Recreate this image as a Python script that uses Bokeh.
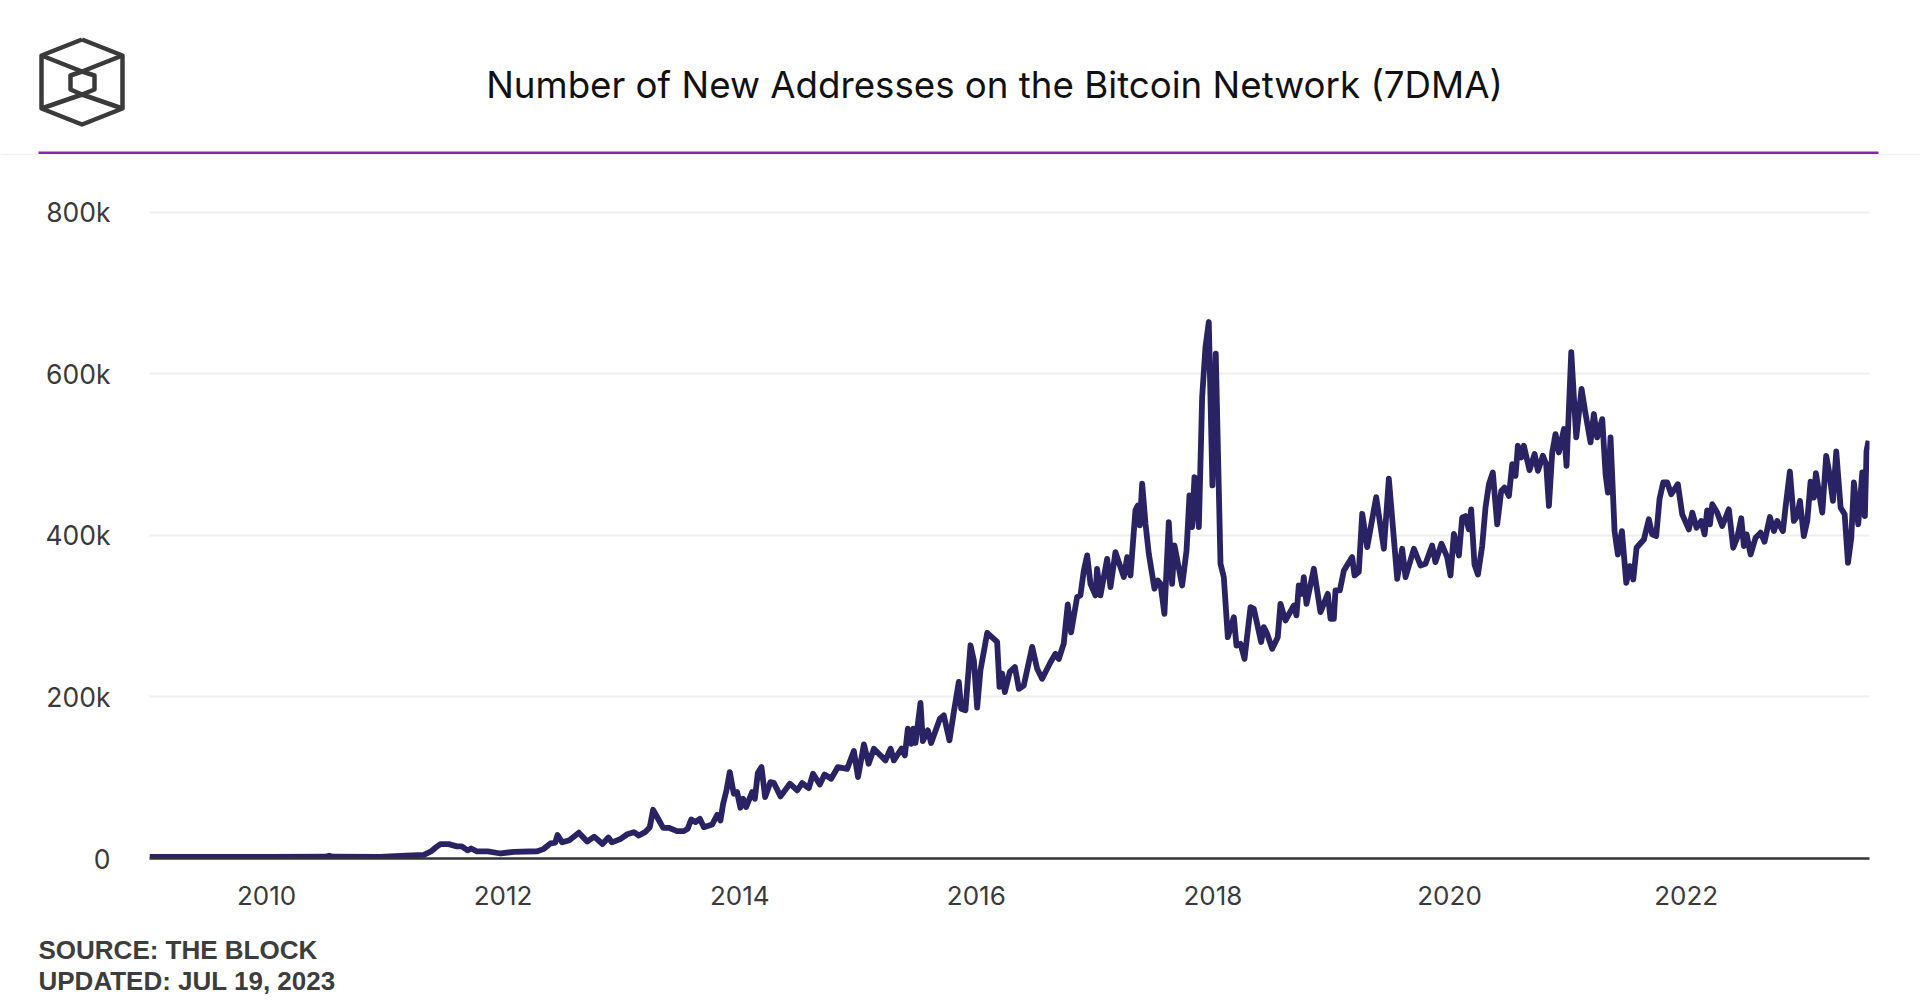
from bokeh.embed import file_html
from bokeh.layouts import column
from bokeh.models import FixedTicker, Label, Range1d
from bokeh.plotting import figure
from bokeh.resources import INLINE

TITLE = "Number of New Addresses on the Bitcoin Network (7DMA)"
SOURCE_LINES = ["SOURCE: THE BLOCK", "UPDATED: JUL 19, 2023"]

YEAR_TICKS = [2010, 2012, 2014, 2016, 2018, 2020, 2022]
VALUE_TICKS = [0, 200, 400, 600, 800]
VALUE_LABELS = {0: "0", 200: "200k", 400: "400k", 600: "600k", 800: "800k"}

# decimal year, new addresses in thousands
years_early = [
    2009.011, 2009.5, 2010.0, 2010.5, 2010.53, 2010.56, 2010.96, 2011.13, 2011.33, 2011.39, 2011.43,
    2011.47, 2011.54, 2011.61, 2011.65, 2011.70, 2011.73, 2011.78, 2011.87, 2011.98, 2012.09, 2012.29,
    2012.34, 2012.40, 2012.44, 2012.46, 2012.50, 2012.56, 2012.64, 2012.71, 2012.77, 2012.84, 2012.89,
    2012.92, 2012.99, 2013.05,
]
values_early = [
    2, 2, 2, 2.2, 3.5, 2.2, 2, 3.3, 4.5, 8.7, 13.6,
    17.8, 17.8, 15, 15, 10, 12.4, 8.7, 8.7, 6.2, 8.3, 9,
    11.6, 18.6, 19.5, 29, 20, 22.7, 32, 21, 27, 18, 26,
    20, 24, 30,
]

years_2013 = [
    2013.105, 2013.147, 2013.20, 2013.24, 2013.268, 2013.31, 2013.353, 2013.40, 2013.47, 2013.528, 2013.56,
    2013.59, 2013.626, 2013.663, 2013.697, 2013.767, 2013.81, 2013.837, 2013.86, 2013.888, 2013.916, 2013.95,
    2013.978, 2014.006, 2014.029, 2014.054, 2014.105, 2014.128, 2014.153, 2014.184, 2014.215, 2014.26, 2014.288,
    2014.345, 2014.424, 2014.486, 2014.528, 2014.584, 2014.62, 2014.677, 2014.717, 2014.773, 2014.83, 2014.908,
    2014.965, 2015.0, 2015.05, 2015.09, 2015.134, 2015.232, 2015.275, 2015.303, 2015.368, 2015.396, 2015.421,
    2015.45, 2015.466, 2015.486, 2015.528, 2015.548, 2015.59, 2015.618, 2015.692, 2015.725, 2015.773, 2015.81,
    2015.852, 2015.872, 2015.908, 2015.951, 2015.979, 2016.007, 2016.035, 2016.092, 2016.176, 2016.196, 2016.219,
    2016.241, 2016.283, 2016.326, 2016.36,
]
values_2013 = [
    32.6, 28.5, 32.6, 38.8, 60.3, 49.2, 38, 38, 33.9, 33.9, 36.8,
    48.3, 45, 49.2, 38.8, 42.1, 54.1, 47.1, 67.8, 84.3, 107, 80.2,
    82.2, 62.8, 74, 63.6, 82.2, 74, 105.8, 113.2, 76, 94.6, 93.8,
    76.9, 92.6, 84.3, 93.4, 87.2, 105, 91.7, 104, 98.8, 113.2, 111,
    133, 100.8, 141.3, 117.3, 135.9, 121.5, 136, 121.5, 136, 127.7, 160.7,
    142, 160.7, 143, 192.6, 145.4, 158.7, 143, 173, 177.3, 146.3, 181.4,
    218.6, 185.5, 183.5, 264, 245.4, 186.8, 233, 279.3, 268.2, 212.4, 229,
    206, 231, 237, 210,
]

years_2016 = [
    2016.401, 2016.472, 2016.514, 2016.556, 2016.627, 2016.669, 2016.697, 2016.739, 2016.773, 2016.801, 2016.852,
    2016.88, 2016.909, 2016.937, 2016.965, 2017.007, 2017.021, 2017.049, 2017.106, 2017.134, 2017.176, 2017.247,
    2017.275, 2017.303, 2017.345, 2017.365, 2017.382, 2017.402, 2017.43, 2017.458, 2017.506, 2017.534, 2017.557,
    2017.59, 2017.627, 2017.655, 2017.675, 2017.74, 2017.777, 2017.802, 2017.824, 2017.844, 2017.881, 2017.909,
    2017.937, 2017.965, 2017.996, 2018.024, 2018.064, 2018.092, 2018.126, 2018.177, 2018.199, 2018.233, 2018.267,
    2018.318, 2018.346, 2018.408, 2018.43, 2018.458, 2018.501, 2018.548, 2018.571, 2018.613, 2018.684, 2018.706,
    2018.726, 2018.754, 2018.768, 2018.791, 2018.853, 2018.909, 2018.971, 2018.994, 2019.022, 2019.036, 2019.073,
    2019.107, 2019.177, 2019.197, 2019.233, 2019.262, 2019.304, 2019.38, 2019.445, 2019.487, 2019.558, 2019.6,
    2019.628, 2019.699, 2019.755, 2019.797, 2019.853, 2019.881, 2019.932, 2019.98, 2020.008, 2020.037, 2020.079,
]
values_2016 = [
    214, 262, 235, 222.5, 243, 253.4, 247, 266, 314.5, 280, 323.6,
    325.7, 356.6, 375.2, 340, 325.7, 358.7, 325.7, 371, 336, 379.3, 348.4,
    373.1, 350.4, 431, 437, 412.4, 464, 414.4, 377.3, 334, 344.2, 340,
    303, 416.5, 340, 387.6, 338, 381.4, 449.5, 410.3, 472.2, 410.3, 571.3,
    633.2, 664.2, 462, 625, 365, 348.4, 274, 298.8, 263.7, 265.8, 247.2,
    311.2, 309, 268, 286.5, 278.2, 259.6, 274, 315.3, 294.7, 313.3, 301,
    338, 327.7, 348.4, 315.3, 358.7, 305, 327.7, 296.8, 296.8, 331.9, 331.9,
    356.6, 373.1, 350.4, 354.6, 426.8, 385.5, 447.4, 383.5, 470.2, 346.3, 383.5,
    348.4, 383.5, 362.8, 364.9, 387.6, 367, 389.7, 373.1, 350.4, 402, 375.2,
]

years_2020 = [
    2020.107, 2020.135, 2020.163, 2020.183, 2020.211, 2020.24, 2020.276, 2020.304, 2020.333, 2020.366, 2020.403,
    2020.437, 2020.465, 2020.502, 2020.53, 2020.558, 2020.578, 2020.606, 2020.628, 2020.676, 2020.719, 2020.747,
    2020.789, 2020.817, 2020.84, 2020.868, 2020.896, 2020.924, 2020.967, 2020.989, 2021.029, 2021.071, 2021.116,
    2021.15, 2021.192, 2021.22, 2021.248, 2021.291, 2021.319, 2021.339, 2021.361, 2021.395, 2021.423, 2021.457,
    2021.494, 2021.525, 2021.553, 2021.581, 2021.643, 2021.685, 2021.713, 2021.747, 2021.775, 2021.806, 2021.84,
    2021.874, 2021.93, 2021.967, 2022.023, 2022.052, 2022.088, 2022.128, 2022.156, 2022.178, 2022.201, 2022.221,
    2022.263, 2022.305, 2022.361, 2022.398, 2022.432, 2022.466, 2022.488, 2022.511, 2022.545, 2022.587, 2022.629,
    2022.663, 2022.708, 2022.742, 2022.77, 2022.818, 2022.84, 2022.877, 2022.911, 2022.939, 2022.962, 2022.995,
    2023.024, 2023.052, 2023.08, 2023.097, 2023.151, 2023.184, 2023.207, 2023.241, 2023.269, 2023.306, 2023.34,
    2023.368, 2023.396, 2023.418, 2023.455, 2023.489, 2023.511, 2023.525, 2023.542,
]
values_2020 = [
    422, 424, 407.5, 432.3, 364, 351.6, 386.8, 434.4, 463.4, 477.9, 413.7,
    455, 459.3, 448.9, 488.2, 473.7, 511, 496.5, 511, 480.8, 500.7, 480,
    498.6, 488.2, 436.5, 502.7, 525.5, 502.7, 531.7, 486.2, 626.9, 521.4, 581.4,
    550.3, 515.2, 550.3, 521.4, 544, 475.8, 453, 521.4, 405.4, 376.4, 405.4,
    341.3, 362, 345.4, 384.7, 395, 420, 401.3, 399.2, 444.8, 465.5, 465.5,
    451, 463.4, 426.1, 407.5, 428.2, 409.6, 417.9, 401.3, 431.1, 413.7, 438.6,
    428.2, 411.6, 432.3, 384.7, 397.1, 421.2, 386.8, 401.3, 376.4, 397.1, 403.4,
    392.2, 422.8, 405.4, 417.9, 405.4, 434.4, 479.1, 417.9, 424, 442.7, 399.2,
    417.9, 466.7, 446.8, 477, 428.2, 498.6, 480, 442.7, 504, 434.4, 426.1,
    366.1, 397.1, 465.5, 413.7, 477.9, 424, 504.8, 517.2,
]

years = years_early + years_2013 + years_2016 + years_2020
values = values_early + values_2013 + values_2016 + values_2020

# logo outline in page pixels
logo_outer_x = [81.5, 122, 122, 81.5, 41, 41, 81.5]
logo_outer_y = [39, 55, 108, 124, 108, 55, 39]
logo_inner_x = [81.5, 94, 94, 81.5, 70, 70, 81.5]
logo_inner_y = [71, 75, 89, 94, 89, 75, 71]
logo_spokes_x = [[41, 81.5, 122], [41, 81.5, 122]]
logo_spokes_y = [[55, 71, 55], [108, 94, 108]]


def page_strip(height, top):
    # a strip without axes whose data coordinates are page pixels
    strip = figure(
        width=1920, height=height, x_range=Range1d(0, 1920), y_range=Range1d(top + height, top),
        output_backend="svg", toolbar_location=None, x_axis_location=None, y_axis_location=None,
        min_border=0, outline_line_color=None, frame_align=False,
    )
    strip.grid.visible = False
    return strip


header = page_strip(158, 0)
header.line([0, 1920], [154, 154], line_color="#f2f2f2", line_width=1.5)
header.line([38, 1878], [152.3, 152.3], line_color="#8e24aa", line_width=2.5)
for xs, ys in [(logo_outer_x, logo_outer_y), (logo_inner_x, logo_inner_y)]:
    header.line(xs, ys, line_color="#3a3a3a", line_width=4.5, line_join="round")
header.multi_line(logo_spokes_x, logo_spokes_y, line_color="#3a3a3a", line_width=4.5)
header.add_layout(Label(
    x=994, y=84, text=TITLE, text_align="center", text_baseline="middle",
    text_font="Inter", text_font_size="36.7px", text_color="#111111",
))

p = figure(
    width=1920, height=772, x_range=Range1d(2009.011, 2023.55), y_range=Range1d(0, 858),
    output_backend="svg", toolbar_location=None,
    min_border_left=149, min_border_right=51, min_border_top=7, min_border_bottom=72,
    outline_line_color=None, frame_align=False,
)
p.line(years, values, line_color="#2a2363", line_width=5.8, line_join="round")

p.xgrid.visible = False
p.ygrid.grid_line_color = "#eeeeee"
p.ygrid.grid_line_width = 2
p.ygrid.ticker = FixedTicker(ticks=VALUE_TICKS)

p.xaxis.ticker = FixedTicker(ticks=YEAR_TICKS)
p.xaxis.axis_line_color = "#333333"
p.xaxis.axis_line_width = 2.5
p.xaxis.major_tick_line_color = None
p.xaxis.minor_tick_line_color = None
p.xaxis.major_label_standoff = 21
p.xaxis.major_label_text_font = "Inter"
p.xaxis.major_label_text_font_size = "26px"
p.xaxis.major_label_text_color = "#3a3a3a"

p.yaxis.ticker = FixedTicker(ticks=VALUE_TICKS)
p.yaxis.major_label_overrides = VALUE_LABELS
p.yaxis.axis_line_color = None
p.yaxis.major_tick_line_color = None
p.yaxis.minor_tick_line_color = None
p.yaxis.major_label_standoff = 33
p.yaxis.major_label_text_font = "Inter"
p.yaxis.major_label_text_font_size = "26.5px"
p.yaxis.major_label_text_color = "#3a3a3a"

footer = page_strip(78, 930)
for line, y in zip(SOURCE_LINES, [949, 980]):
    footer.add_layout(Label(
        x=38, y=y, text=line, text_baseline="middle",
        text_font="Liberation Sans", text_font_style="bold", text_font_size="26px", text_color="#3d3d3d",
    ))

page = column(header, p, footer, spacing=0)
open("out.html", "w").write(file_html(page, INLINE))
